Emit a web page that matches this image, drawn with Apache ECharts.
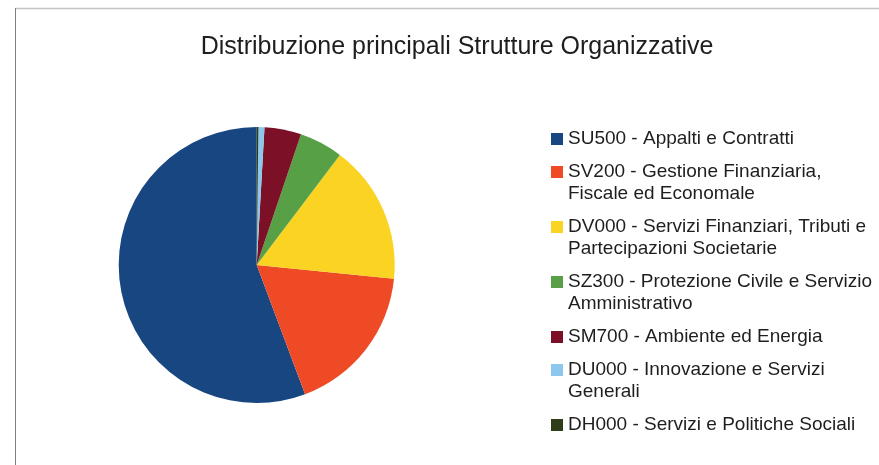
<!DOCTYPE html>
<html>
<head>
<meta charset="utf-8">
<script src="https://cdn.jsdelivr.net/npm/echarts@6/dist/echarts.min.js"></script>
<style>
  html, body { margin: 0; padding: 0; background: #fff; }
  #chart { width: 879px; height: 465px; }
</style>
</head>
<body>
<div id="chart"></div>
<script>
const names = [
  'SU500 - Appalti e Contratti',
  'SV200 - Gestione Finanziaria,\nFiscale ed Economale',
  'DV000 - Servizi Finanziari, Tributi e\nPartecipazioni Societarie',
  'SZ300 - Protezione Civile e Servizio\nAmministrativo',
  'SM700 - Ambiente ed Energia',
  'DU000 - Innovazione e Servizi\nGenerali',
  'DH000 - Servizi e Politiche Sociali'
]
const values = [55.7, 17.7, 16.3, 5.1, 4.3, 0.7, 0.2]
const colors = ['#174680', '#ef4a26', '#fbd322', '#57a045', '#7b1026', '#8cc7ee', '#2f3d18']

const FONT = '"Liberation Sans", Arial, sans-serif'
const LINE_H = 22
const ITEM_GAP = 11

// una legenda per voce; righe vuote in testa tengono il quadratino sulla prima riga
const legends = []
let iconCenter = 139
names.forEach((name) => {
  const lines = name.split('\n').length
  const pad = lines - 1
  legends.push({
    left: 551,
    top: iconCenter - LINE_H / 2 - pad * LINE_H,
    orient: 'vertical',
    padding: 0,
    itemWidth: 12,
    itemHeight: 12,
    icon: 'rect',
    selectedMode: false,
    data: [name],
    formatter: n => '\n'.repeat(pad) + n,
    textStyle: {
      fontFamily: FONT,
      fontSize: 19,
      lineHeight: LINE_H,
      color: '#1e1e1e'
    }
  })
  iconCenter += lines * LINE_H + ITEM_GAP
})

const chart = echarts.init(document.getElementById('chart'))
chart.setOption({
  backgroundColor: '#fff',
  animation: false,
  color: colors,
  title: {
    text: 'Distribuzione principali Strutture Organizzative',
    left: 457,
    top: 35,
    padding: 0,
    textAlign: 'center',
    textStyle: {
      fontFamily: FONT,
      fontSize: 25,
      lineHeight: 25,
      fontWeight: 'normal',
      color: '#1e1e1e'
    }
  },
  legend: legends,
  graphic: [
    { type: 'line', shape: { x1: 15, y1: 8.5, x2: 879, y2: 8.5 }, style: { stroke: '#c4c4c4', lineWidth: 1.5 } },
    { type: 'line', shape: { x1: 15.5, y1: 8, x2: 15.5, y2: 465 }, style: { stroke: '#808080', lineWidth: 1 } }
  ],
  series: [{
    type: 'pie',
    center: [256.7, 265],
    radius: 138,
    startAngle: 90,
    clockwise: false,
    label: { show: false },
    labelLine: { show: false },
    emphasis: { disabled: true },
    itemStyle: { borderWidth: 0 },
    data: names.map((n, i) => ({ name: n, value: values[i] }))
  }]
})
</script>
</body>
</html>
